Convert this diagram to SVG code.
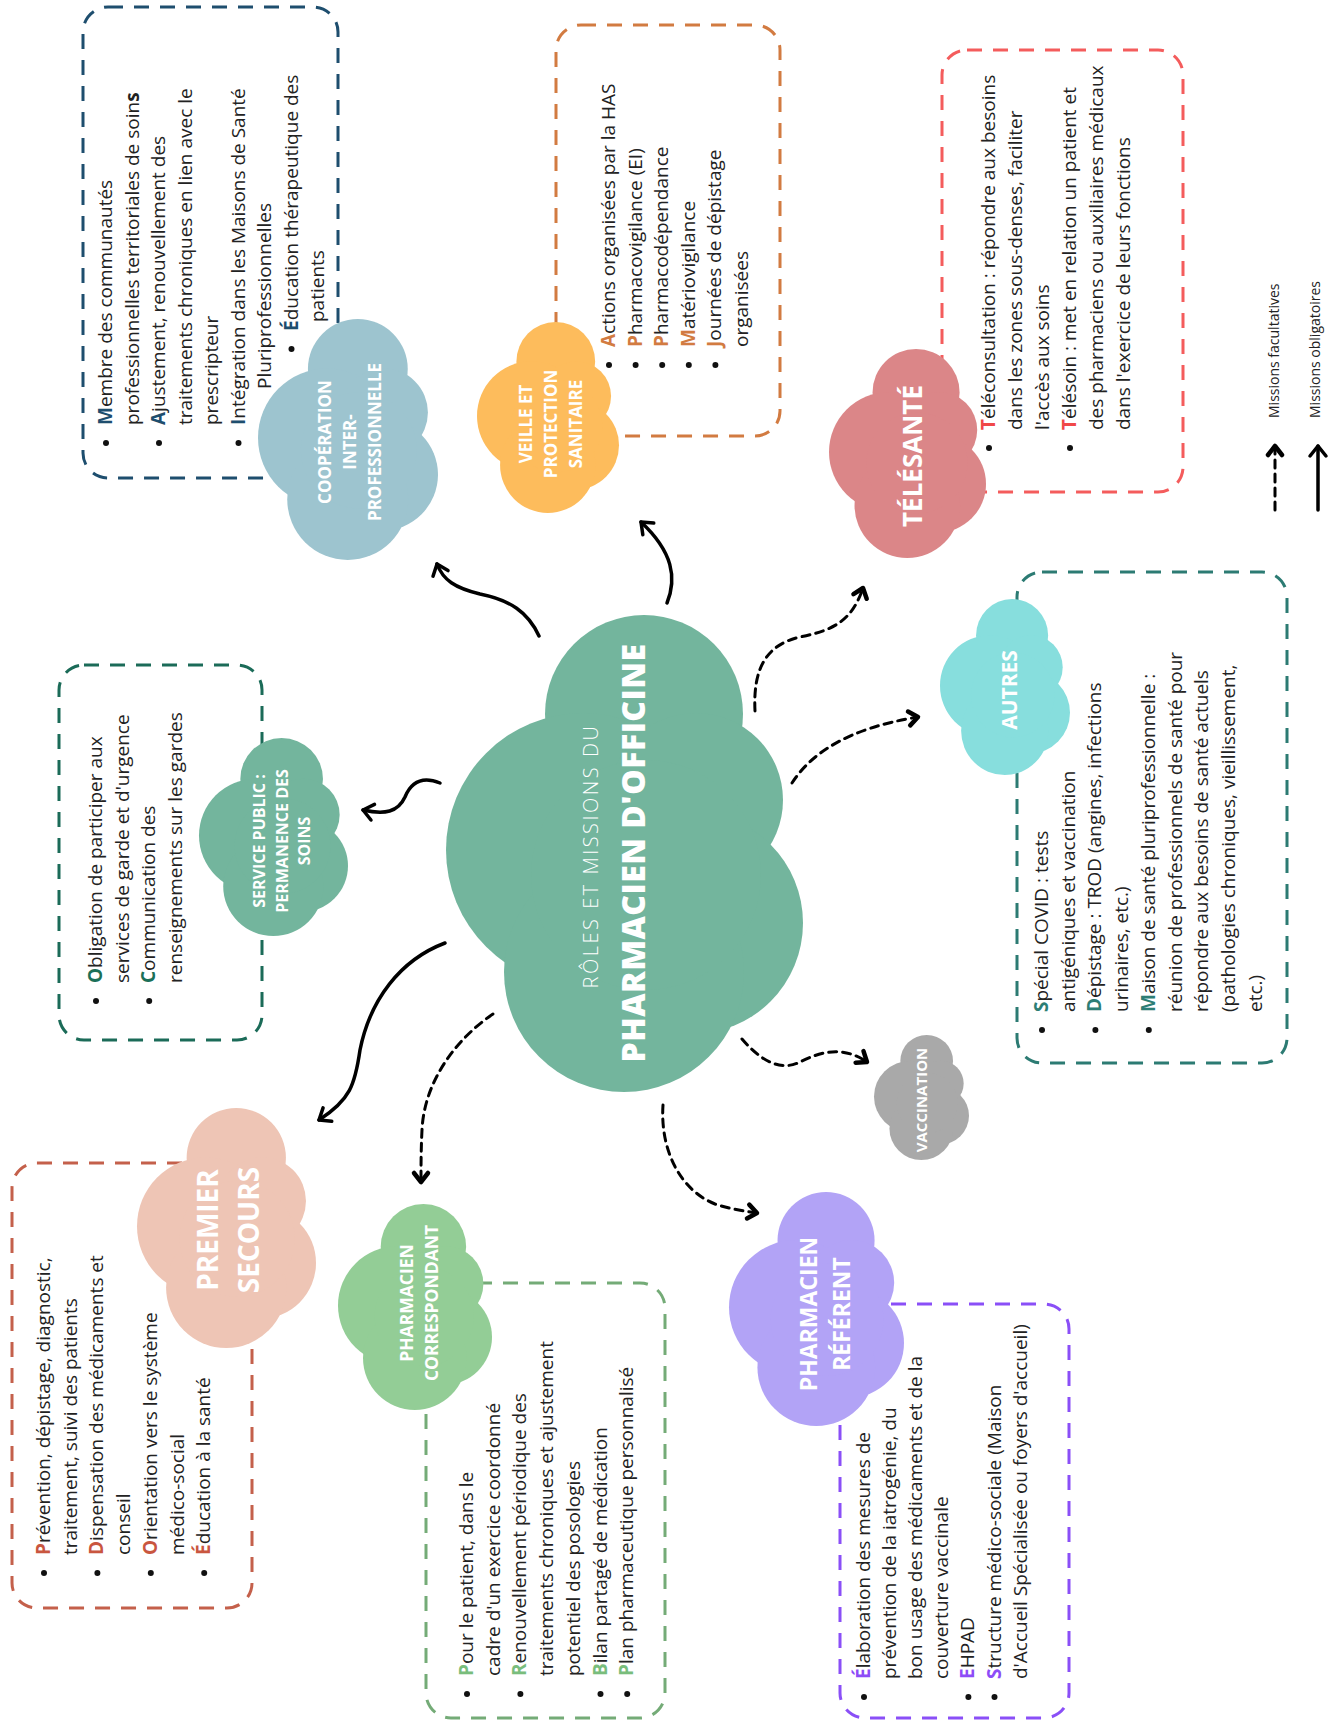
<svg xmlns="http://www.w3.org/2000/svg" xmlns:xlink="http://www.w3.org/1999/xlink" width="1335" height="1724" viewBox="0 0 1335 1724">
<style>
.box{fill:none;stroke-width:3;stroke-dasharray:15 11}
.t text{font-family:'Open Sans','Liberation Sans',sans-serif;font-size:19px;fill:#222}
.t circle{fill:#111}
.b{font-weight:700}
.h{font-family:'Open Sans','Liberation Sans',sans-serif;fill:#fff;text-anchor:middle}
.hb{font-weight:700}
.conn path{fill:none;stroke:#000;stroke-linecap:round}
.solid{stroke-width:3.5;marker-end:url(#ah)}
.dashed{stroke-width:3;stroke-dasharray:8 6;marker-end:url(#ahd)}
.leg{font-family:'Open Sans','Liberation Sans',sans-serif;font-size:14px;fill:#222}
</style>
<defs>
<g id="cloud">
<circle cx="198" cy="99" r="99"/>
<circle cx="137" cy="235" r="137"/>
<circle cx="250" cy="185" r="87"/>
<circle cx="246" cy="308" r="111"/>
<circle cx="178" cy="357" r="120"/>
<circle cx="200" cy="260" r="115"/>
</g>
<marker id="ah" viewBox="-14 -10 16 20" refX="0" refY="0" markerWidth="16" markerHeight="20" markerUnits="userSpaceOnUse" orient="auto" overflow="visible">
<path d="M-10,-8 L0,0 L-10,8" fill="none" stroke="#000" stroke-width="3.5" stroke-linecap="round" stroke-linejoin="round"/>
</marker>
<marker id="ahd" viewBox="-14 -10 16 20" refX="0" refY="0" markerWidth="16" markerHeight="20" markerUnits="userSpaceOnUse" orient="auto" overflow="visible">
<path d="M-9,-7 L0,0 L-9,7" fill="none" stroke="#000" stroke-width="4.5" stroke-linecap="round" stroke-linejoin="round"/>
</marker>
</defs>
<rect width="1335" height="1724" fill="#fff"/>

<g id="connectors" class="conn">
<path class="solid" d="M539,636 C528,612 510,600 480,594 C455,588 443,580 437,564"/>
<path class="solid" d="M667,603 C677,578 673,552 641,522"/>
<path class="dashed" d="M755,711 C753,670 765,645 800,637 C835,630 852,620 863,588"/>
<path class="dashed" d="M792,783 C812,752 850,728 918,717"/>
<path class="solid" d="M440,783 C420,775 410,785 405,797 C398,812 385,815 363,810"/>
<path class="solid" d="M445,943 C400,960 370,1000 360,1050 C355,1085 350,1100 319,1120"/>
<path class="dashed" d="M493,1014 C452,1042 424,1085 422,1130 C421,1150 421,1165 421,1182"/>
<path class="dashed" d="M663,1105 C660,1150 680,1190 715,1204 C730,1209 745,1211 757,1213"/>
<path class="dashed" d="M742,1039 C760,1060 780,1072 800,1062 C820,1052 842,1045 867,1062"/>
</g>

<g id="main">
<use xlink:href="#cloud" href="#cloud" transform="translate(446,615)" fill="#73b59d"/>
<text class="h" transform="translate(598,856) rotate(-90)" font-size="20" style="font-weight:300" letter-spacing="2.5">RÔLES ET MISSIONS DU</text>
<text class="h hb" transform="translate(645,853) rotate(-90)" font-size="32" style="font-weight:800" letter-spacing="0.5">PHARMACIEN D'OFFICINE</text>
</g>

<g id="cooperation">
<rect class="box" x="83" y="7" width="255" height="471" rx="25" stroke="#1e4e6e"/>
<use xlink:href="#cloud" href="#cloud" transform="translate(258,319) scale(0.5042,0.5052)" fill="#9dc4cf"/>
<text class="h hb" font-size="17" transform="translate(331,442) rotate(-90)"><tspan x="0" y="0">COOPÉRATION</tspan><tspan x="0" y="25">INTER-</tspan><tspan x="0" y="50">PROFESSIONNELLE</tspan></text>
<g class="t" transform="translate(112,425) rotate(-90)">
<circle cx="-18" cy="-6" r="3"/>
<text x="0" y="0"><tspan class="b" fill="#1e4e6e">M</tspan>embre des communautés</text>
<text x="0" y="26.5">professionnelles territoriales de soin<tspan class="b">s</tspan></text>
<circle cx="-18" cy="47" r="3"/>
<text x="0" y="53"><tspan class="b" fill="#1e4e6e">A</tspan>justement, renouvellement des</text>
<text x="0" y="79.5">traitements chroniques en lien avec le</text>
<text x="0" y="106">prescripteur</text>
<circle cx="-18" cy="126.5" r="3"/>
<text x="0" y="132.5"><tspan class="b" fill="#1e4e6e">I</tspan>ntégration dans les Maisons de Santé</text>
<text x="36" y="159">Pluriprofessionnelles</text>
<circle cx="76" cy="179.5" r="3"/>
<text x="94" y="185.5"><tspan class="b" fill="#1e4e6e">É</tspan>ducation thérapeutique des</text>
<text x="103" y="212">patients</text>
</g>
</g>

<g id="veille">
<rect class="box" x="556" y="25" width="224" height="411" rx="25" stroke="#d27b41"/>
<use xlink:href="#cloud" href="#cloud" transform="translate(477,322) scale(0.3978,0.4004)" fill="#fdbc5c"/>
<text class="h hb" font-size="17" transform="translate(532,424) rotate(-90)"><tspan x="0" y="0">VEILLE ET</tspan><tspan x="0" y="25">PROTECTION</tspan><tspan x="0" y="50">SANITAIRE</tspan></text>
<g class="t" transform="translate(615,347) rotate(-90)">
<circle cx="-18" cy="-6" r="3"/>
<text x="0" y="0"><tspan class="b" fill="#d27b41">A</tspan>ctions organisées par la HAS</text>
<circle cx="-18" cy="20.6" r="3"/>
<text x="0" y="26.6"><tspan class="b" fill="#d27b41">P</tspan>harmacovigilance (EI)</text>
<circle cx="-18" cy="47.2" r="3"/>
<text x="0" y="53.2"><tspan class="b" fill="#d27b41">P</tspan>harmacodépendance</text>
<circle cx="-18" cy="73.8" r="3"/>
<text x="0" y="79.8"><tspan class="b" fill="#d27b41">M</tspan>atériovigilance</text>
<circle cx="-18" cy="100.4" r="3"/>
<text x="0" y="106.4"><tspan class="b" fill="#d27b41">J</tspan>ournées de dépistage</text>
<text x="0" y="133">organisées</text>
</g>
</g>

<g id="telesante">
<rect class="box" x="942" y="50" width="241" height="442" rx="25" stroke="#f45c5c"/>
<use xlink:href="#cloud" href="#cloud" transform="translate(829,349) scale(0.4398,0.4382)" fill="#db8688"/>
<text class="h hb" font-size="26" transform="translate(922,456) rotate(-90)">TÉLÉSANTÉ</text>
<g class="t" transform="translate(995,430) rotate(-90)">
<circle cx="-18" cy="-6" r="3"/>
<text x="0" y="0"><tspan class="b" fill="#f04848">T</tspan>éléconsultation : répondre aux besoins</text>
<text x="0" y="27">dans les zones sous-denses, faciliter</text>
<text x="0" y="54">l'accès aux soins</text>
<circle cx="-18" cy="75" r="3"/>
<text x="0" y="81"><tspan class="b" fill="#f04848">T</tspan>élésoin : met en relation un patient et</text>
<text x="0" y="108">des pharmaciens ou auxiliaires médicaux</text>
<text x="0" y="135">dans l'exercice de leurs fonctions</text>
</g>
</g>

<g id="service-public">
<rect class="box" x="59" y="665" width="203" height="375" rx="25" stroke="#1b6b58"/>
<use xlink:href="#cloud" href="#cloud" transform="translate(199,738) scale(0.4174,0.4151)" fill="#73b59d"/>
<text class="h hb" font-size="16" transform="translate(265,841) rotate(-90)"><tspan x="0" y="0">SERVICE PUBLIC :</tspan><tspan x="0" y="22.5">PERMANENCE DES</tspan><tspan x="0" y="45">SOINS</tspan></text>
<g class="t" transform="translate(102,983) rotate(-90)">
<circle cx="-18" cy="-6" r="3"/>
<text x="0" y="0"><tspan class="b" fill="#1b7058">O</tspan>bligation de participer aux</text>
<text x="0" y="26.6">services de garde et d'urgence</text>
<circle cx="-18" cy="47.2" r="3"/>
<text x="0" y="53.2"><tspan class="b" fill="#1b7058">C</tspan>ommunication des</text>
<text x="0" y="79.8">renseignements sur les gardes</text>
</g>
</g>

<g id="premier-secours">
<rect class="box" x="12" y="1163" width="240" height="445" rx="25" stroke="#c4604b"/>
<use xlink:href="#cloud" href="#cloud" transform="translate(137,1108) scale(0.5014,0.5031)" fill="#eec5b5"/>
<text class="h hb" font-size="28" transform="translate(218,1230) rotate(-90)"><tspan x="0" y="0">PREMIER</tspan><tspan x="0" y="41">SECOURS</tspan></text>
<g class="t" transform="translate(50,1555) rotate(-90)">
<circle cx="-18" cy="-6" r="3"/>
<text x="0" y="0"><tspan class="b" fill="#c9563f">P</tspan>révention, dépistage, diagnostic,</text>
<text x="0" y="26.7">traitement, suivi des patients</text>
<circle cx="-18" cy="47.4" r="3"/>
<text x="0" y="53.4"><tspan class="b" fill="#c9563f">D</tspan>ispensation des médicaments et</text>
<text x="0" y="80.1">conseil</text>
<circle cx="-18" cy="100.8" r="3"/>
<text x="0" y="106.8"><tspan class="b" fill="#c9563f">O</tspan>rientation vers le système</text>
<text x="0" y="133.5">médico-social</text>
<circle cx="-18" cy="154.2" r="3"/>
<text x="0" y="160.2"><tspan class="b" fill="#c9563f">É</tspan>ducation à la santé</text>
</g>
</g>

<g id="pharmacien-correspondant">
<rect class="box" x="426" y="1283" width="239" height="435" rx="25" stroke="#74ab77"/>
<use xlink:href="#cloud" href="#cloud" transform="translate(338,1204) scale(0.4314,0.4319)" fill="#93cd96"/>
<text class="h hb" font-size="17.5" transform="translate(413,1303) rotate(-90)"><tspan x="0" y="0">PHARMACIEN</tspan><tspan x="0" y="25">CORRESPONDANT</tspan></text>
<g class="t" transform="translate(473,1676) rotate(-90)">
<circle cx="-18" cy="-6" r="3"/>
<text x="0" y="0"><tspan class="b" fill="#79bd7c">P</tspan>our le patient, dans le</text>
<text x="0" y="26.7">cadre d'un exercice coordonné</text>
<circle cx="-18" cy="47.4" r="3"/>
<text x="0" y="53.4"><tspan class="b" fill="#79bd7c">R</tspan>enouvellement périodique des</text>
<text x="0" y="80.1">traitements chroniques et ajustement</text>
<text x="0" y="106.8">potentiel des posologies</text>
<circle cx="-18" cy="127.5" r="3"/>
<text x="0" y="133.5"><tspan class="b" fill="#79bd7c">B</tspan>ilan partagé de médication</text>
<circle cx="-18" cy="154.2" r="3"/>
<text x="0" y="160.2"><tspan class="b" fill="#79bd7c">P</tspan>lan pharmaceutique personnalisé</text>
</g>
</g>

<g id="pharmacien-referent">
<rect class="box" x="840" y="1304" width="229" height="414" rx="25" stroke="#8a4ff7"/>
<use xlink:href="#cloud" href="#cloud" transform="translate(729,1192) scale(0.4902,0.4906)" fill="#b2a3f6"/>
<text class="h hb" font-size="23" transform="translate(817,1314) rotate(-90)"><tspan x="0" y="0">PHARMACIEN</tspan><tspan x="0" y="33">RÉFÉRENT</tspan></text>
<g class="t" transform="translate(870,1679) rotate(-90)">
<circle cx="-18" cy="-6" r="3"/>
<text x="0" y="0"><tspan class="b" fill="#8d4cf7">É</tspan>laboration des mesures de</text>
<text x="0" y="26.1">prévention de la iatrogénie, du</text>
<text x="0" y="52.2">bon usage des médicaments et de la</text>
<text x="0" y="78.3">couverture vaccinale</text>
<circle cx="-18" cy="98.4" r="3"/>
<text x="0" y="104.4"><tspan class="b" fill="#8d4cf7">E</tspan>HPAD</text>
<circle cx="-18" cy="124.5" r="3"/>
<text x="0" y="130.5"><tspan class="b" fill="#8d4cf7">S</tspan>tructure médico-sociale (Maison</text>
<text x="0" y="156.6">d'Accueil Spécialisée ou foyers d'accueil)</text>
</g>
</g>

<g id="autres">
<rect class="box" x="1017" y="572" width="270" height="491" rx="25" stroke="#2c7b73"/>
<use xlink:href="#cloud" href="#cloud" transform="translate(940,599) scale(0.3641,0.3690)" fill="#87dedd"/>
<text class="h hb" font-size="21" transform="translate(1017,690) rotate(-90)">AUTRES</text>
<g class="t" transform="translate(1048,1012) rotate(-90)">
<circle cx="-18" cy="-6" r="3"/>
<text x="0" y="0"><tspan class="b" fill="#2d7e75">S</tspan>pécial COVID : tests</text>
<text x="0" y="26.7">antigéniques et vaccination</text>
<circle cx="-18" cy="47.4" r="3"/>
<text x="0" y="53.4"><tspan class="b" fill="#2d7e75">D</tspan>épistage : TROD (angines, infections</text>
<text x="0" y="80.1">urinaires, etc.)</text>
<circle cx="-18" cy="100.8" r="3"/>
<text x="0" y="106.8"><tspan class="b" fill="#2d7e75">M</tspan>aison de santé pluriprofessionnelle :</text>
<text x="0" y="133.5">réunion de professionnels de santé pour</text>
<text x="0" y="160.2">répondre aux besoins de santé actuels</text>
<text x="0" y="186.9">(pathologies chroniques, vieillissement,</text>
<text x="0" y="213.6">etc.)</text>
</g>
</g>

<g id="vaccination">
<use xlink:href="#cloud" href="#cloud" transform="translate(874,1035) scale(0.2661,0.2621)" fill="#a9a9a9"/>
<text class="h hb" font-size="15" transform="translate(927,1100) rotate(-90)">VACCINATION</text>
</g>

<g id="legend">
<g class="conn">
<path class="dashed" d="M1275,510 L1275,446"/>
<path class="solid" d="M1318,510 L1318,446"/>
</g>
<text class="leg" transform="translate(1279,418) rotate(-90)"><tspan x="0" y="0">Missions facultatives</tspan><tspan x="0" y="41">Missions obligatoires</tspan></text>
</g>
</svg>
